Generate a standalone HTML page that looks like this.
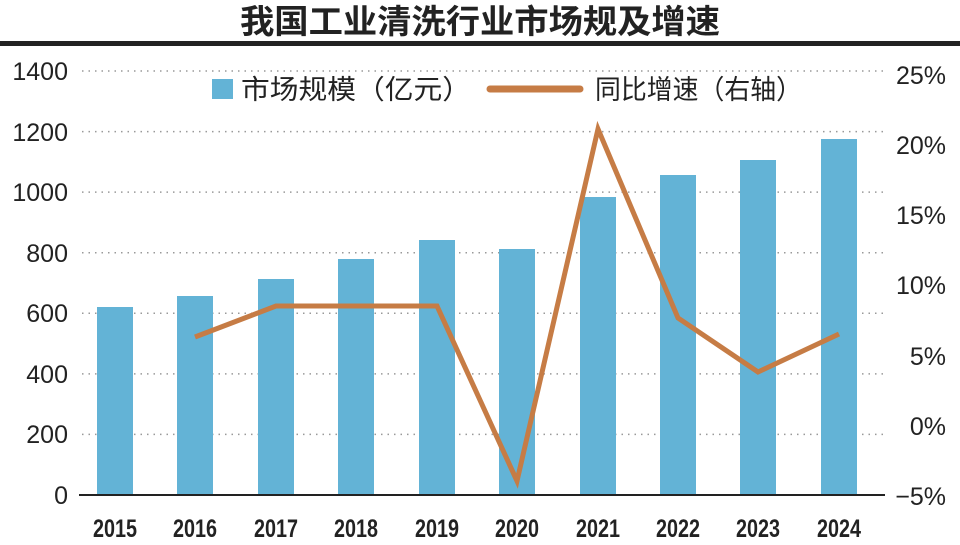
<!DOCTYPE html>
<html><head><meta charset="utf-8"><style>
body{margin:0;background:#fff;}
svg text{font-family:"Liberation Sans","Noto Sans CJK SC",sans-serif;}
</style></head><body>
<svg width="960" height="540" xmlns="http://www.w3.org/2000/svg">
<text x="480" y="33" text-anchor="middle" font-size="33" font-weight="bold" fill="#222" font-family="Noto Sans CJK SC,sans-serif" textLength="480" lengthAdjust="spacingAndGlyphs">我国工业清洗行业市场规及增速</text>
<rect x="0" y="41" width="960" height="5" fill="#222"/>
<g stroke="#999" stroke-width="1.5" stroke-dasharray="1.5,5">
<line x1="82" y1="71" x2="885" y2="71"/><line x1="82" y1="131.6" x2="885" y2="131.6"/><line x1="82" y1="192.1" x2="885" y2="192.1"/><line x1="82" y1="252.7" x2="885" y2="252.7"/><line x1="82" y1="313.3" x2="885" y2="313.3"/><line x1="82" y1="373.9" x2="885" y2="373.9"/><line x1="82" y1="434.4" x2="885" y2="434.4"/>
</g>
<g font-size="25" fill="#222" text-anchor="end">
<text x="68" y="80">1400</text><text x="68" y="141">1200</text><text x="68" y="201">1000</text><text x="68" y="262">800</text><text x="68" y="322">600</text><text x="68" y="383">400</text><text x="68" y="443">200</text><text x="68" y="504">0</text>
</g>
<g font-size="25" fill="#222" text-anchor="end">
<text x="946" y="84">25%</text><text x="946" y="154">20%</text><text x="946" y="224">15%</text><text x="946" y="294">10%</text><text x="946" y="365">5%</text><text x="946" y="435">0%</text><text x="946" y="505">−5%</text>
</g>
<g fill="#63b3d6">
<rect x="97" y="307" width="36" height="188"/>
<rect x="177" y="296" width="36" height="199"/>
<rect x="258" y="279" width="36" height="216"/>
<rect x="338" y="259" width="36" height="236"/>
<rect x="419" y="240" width="36" height="255"/>
<rect x="499" y="249" width="36" height="246"/>
<rect x="580" y="197" width="36" height="298"/>
<rect x="660" y="175" width="36" height="320"/>
<rect x="740" y="160" width="36" height="335"/>
<rect x="821" y="139" width="36" height="356"/>
</g>
<line x1="79" y1="495" x2="885" y2="495" stroke="#222" stroke-width="2"/>
<polyline points="195,337 276,306 356,306 437,306 517,481 598,129 678,318 758,372 839,334" fill="none" stroke="#c67c45" stroke-width="5" stroke-linejoin="miter"/>
<g font-size="25" fill="#222" text-anchor="middle" font-weight="bold">
<text x="115" y="537" textLength="44" lengthAdjust="spacingAndGlyphs">2015</text><text x="195" y="537" textLength="44" lengthAdjust="spacingAndGlyphs">2016</text><text x="276" y="537" textLength="44" lengthAdjust="spacingAndGlyphs">2017</text><text x="356" y="537" textLength="44" lengthAdjust="spacingAndGlyphs">2018</text><text x="437" y="537" textLength="44" lengthAdjust="spacingAndGlyphs">2019</text><text x="517" y="537" textLength="44" lengthAdjust="spacingAndGlyphs">2020</text><text x="598" y="537" textLength="44" lengthAdjust="spacingAndGlyphs">2021</text><text x="678" y="537" textLength="44" lengthAdjust="spacingAndGlyphs">2022</text><text x="758" y="537" textLength="44" lengthAdjust="spacingAndGlyphs">2023</text><text x="839" y="537" textLength="44" lengthAdjust="spacingAndGlyphs">2024</text>
</g>
<rect x="212" y="79" width="21" height="20" fill="#63b3d6"/>
<text x="241" y="99" font-size="27" fill="#222" textLength="230" lengthAdjust="spacingAndGlyphs">市场规模（亿元）</text>
<line x1="490" y1="89" x2="580" y2="89" stroke="#c67c45" stroke-width="7" stroke-linecap="round"/>
<text x="595" y="99" font-size="27" fill="#222" textLength="207" lengthAdjust="spacingAndGlyphs">同比增速（右轴）</text>
</svg>
</body></html>
